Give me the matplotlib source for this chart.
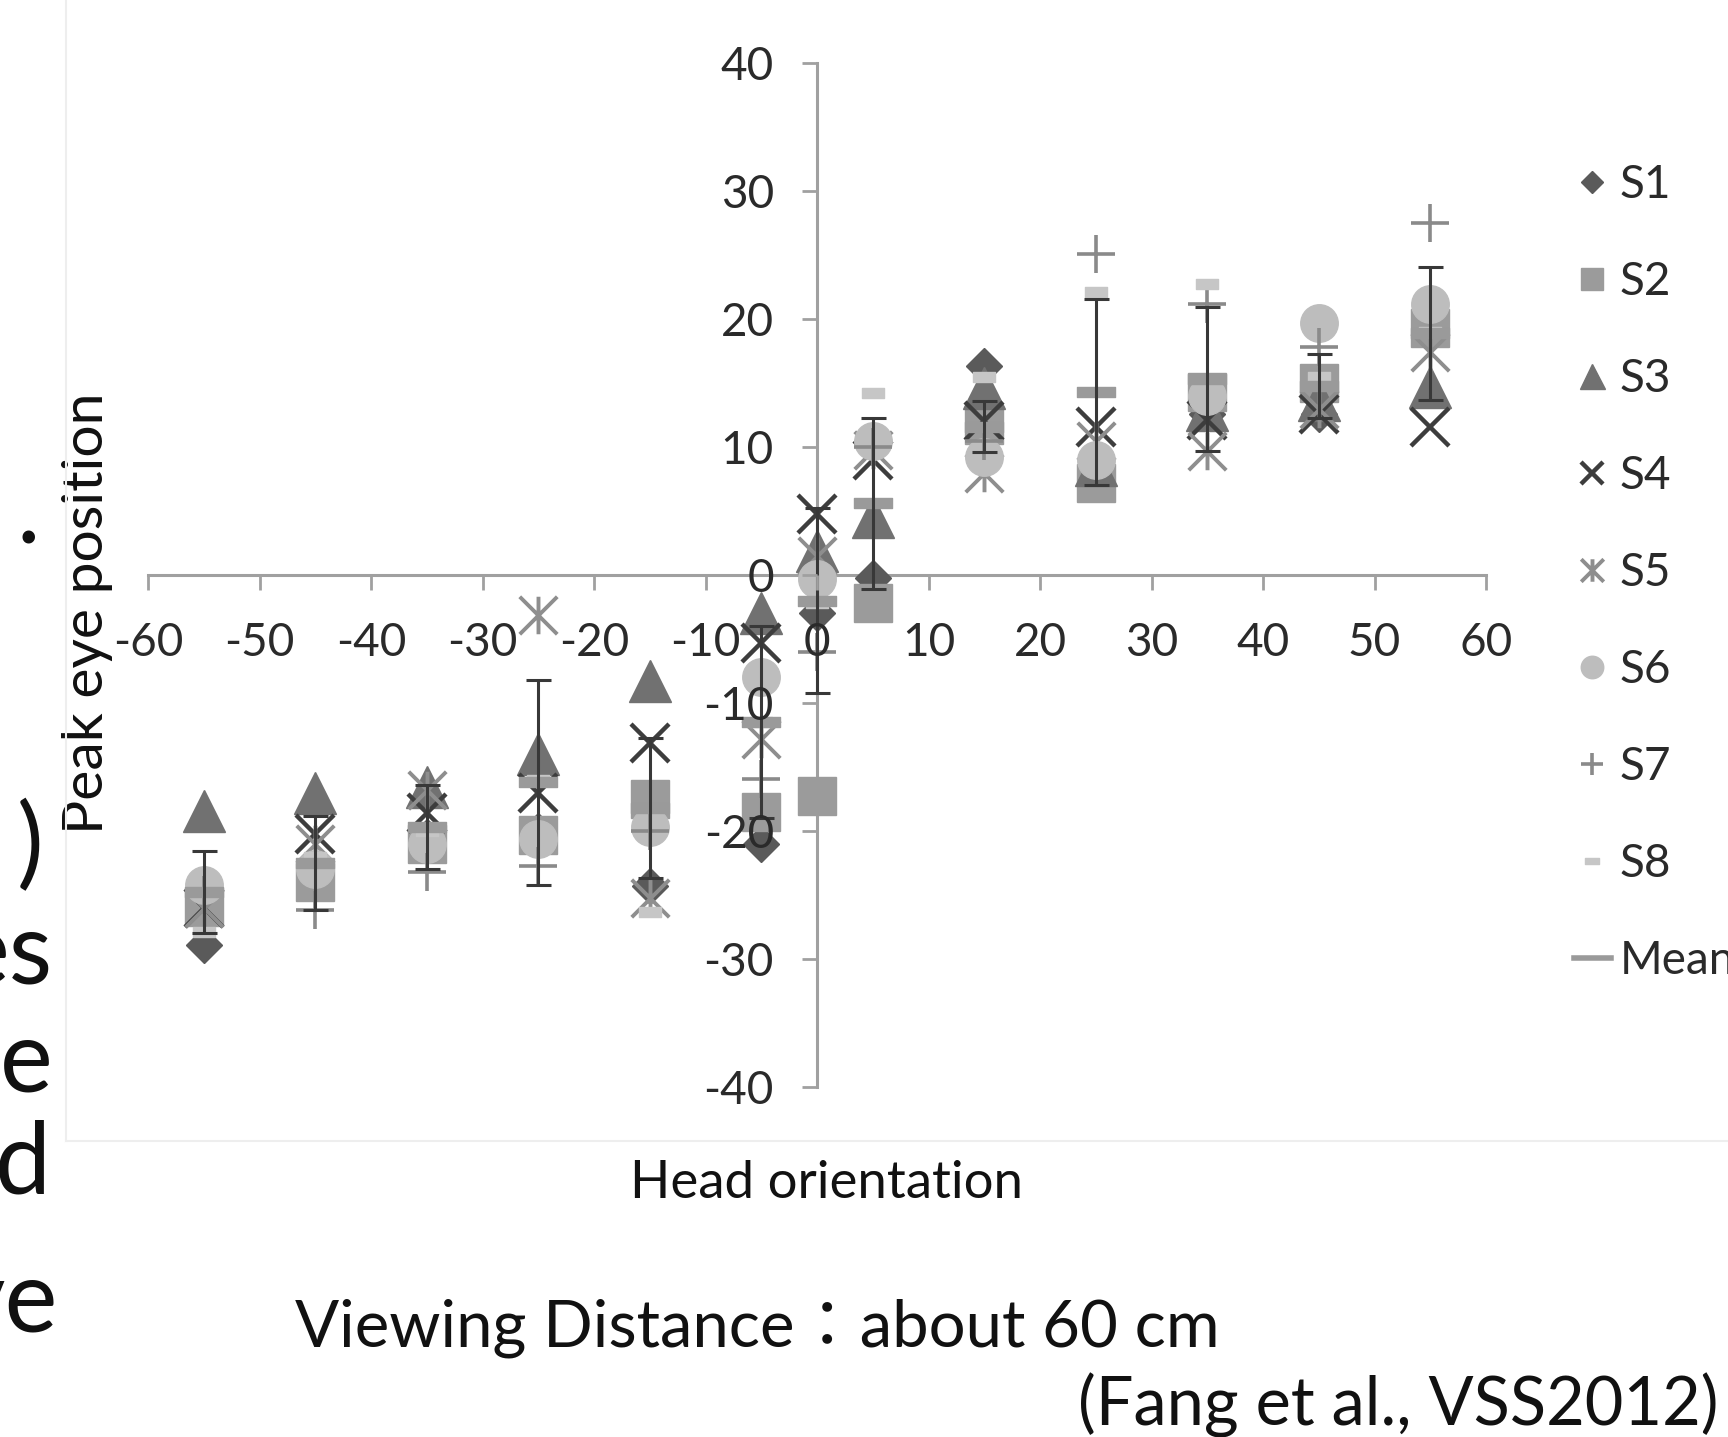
import matplotlib
matplotlib.use('Agg')
import matplotlib.pyplot as plt
from matplotlib.path import Path
from matplotlib.lines import Line2D

plt.rcParams['font.family'] = ['Lato', 'Noto Sans CJK JP', 'DejaVu Sans']
plt.rcParams['axes.unicode_minus'] = False

# head orientation (deg) for every cluster
head = [-55, -45, -35, -25, -15, -5, 0, 5, 15, 25, 35, 45, 55]

# peak eye position per subject
s1 = [-28.9, -24.0, -20.5, -20.0, -24.3, -21.0, -3.0, -0.2, 16.3, 9.0, 12.6, 12.6, 19.5]
s2 = [-25.9, -24.0, -21.0, -20.3, -17.5, -18.5, -17.3, -2.2, 11.7, 7.2, 14.3, 15.0, 19.3]
s3 = [-18.4, -17.0, -16.6, -14.0, -8.3, -3.0, 1.9, 4.5, 14.6, 8.6, 12.9, 13.7, 14.7]
s4 = [-26.0, -20.2, -18.6, -17.0, -13.1, -5.3, 4.8, 9.0, 12.0, 11.6, 12.1, 12.6, 11.6]
s5 = [-26.0, -21.0, -16.8, -3.1, -25.2, -12.8, 1.5, 9.8, 8.0, 10.5, 9.7, 13.0, 17.4]
s6 = [-24.2, -23.0, -21.0, -20.6, -19.7, -8.0, -0.3, 10.5, 9.2, 9.0, 14.0, 19.7, 21.2]
s7 = [-25.0, -26.2, -23.2, -22.7, -20.0, -15.9, -6.0, 10.0, 10.5, 25.1, 21.2, 17.8, 27.5]
s8 = [-27.9, -22.0, -20.0, -16.0, -26.3, -11.5, -2.2, 14.2, 15.5, 22.1, 22.7, 15.5, 19.0]
mean = [-24.8, -22.5, -19.7, -16.2, -18.2, -11.5, -2.0, 5.6, 11.6, 14.3, 15.3, 14.8, 18.9]
mean_err = [3.2, 3.7, 3.3, 8.0, 5.5, 7.5, 7.2, 6.7, 2.0, 7.3, 5.6, 2.5, 5.2]

# excel-like markers
asterisk = Path([(-1, -1), (1, 1), (-1, 1), (1, -1), (0, -1), (0, 1)],
                [Path.MOVETO, Path.LINETO] * 3)
short_dash = Path([(-1, -0.45), (1, -0.45), (1, 0.45), (-1, 0.45), (-1, -0.45)],
                  [Path.MOVETO, Path.LINETO, Path.LINETO, Path.LINETO, Path.CLOSEPOLY])
long_dash = Path([(-1, -0.28), (1, -0.28), (1, 0.28), (-1, 0.28), (-1, -0.28)],
                 [Path.MOVETO, Path.LINETO, Path.LINETO, Path.LINETO, Path.CLOSEPOLY])

series = [
    ('S1', s1, dict(marker='D', ms=18, color='#5a5a5a')),
    ('S2', s2, dict(marker='s', ms=27, color='#9b9b9b')),
    ('S3', s3, dict(marker='^', ms=30, color='#717171')),
    ('S4', s4, dict(marker='x', ms=27, mew=3.2, color='#3d3d3d')),
    ('S5', s5, dict(marker=asterisk, ms=27, mew=2.8, color='#8e8e8e')),
    ('S6', s6, dict(marker='o', ms=27, color='#bdbdbd')),
    ('S7', s7, dict(marker='+', ms=27, mew=2.6, color='#8a8a8a')),
    ('S8', s8, dict(marker=short_dash, ms=16, color='#c6c6c6')),
]

W, H = 1728, 1437
fig = plt.figure(figsize=(W / 100, H / 100), dpi=100)
ax = fig.add_axes([148 / W, 1 - 1087 / H, 1338 / W, 1024 / H])

handles = []
for name, vals, kw in series:
    ln, = ax.plot(head, vals, linestyle='none', label=name, zorder=2, **kw)
    handles.append(ln)

ax.plot(head, mean, linestyle='none', marker=long_dash, ms=27, color='#9a9a9a', zorder=2)
ax.errorbar(head, mean, yerr=mean_err, fmt='none', ecolor='#383838',
            elinewidth=2.2, capsize=9, capthick=2.2, zorder=2.2)
handles.append(Line2D([], [], color='#9a9a9a', lw=4, label='Mean'))

# axes crossing at the origin
ax.set_xlim(-60, 60)
ax.set_ylim(-40, 40)
ax.spines['left'].set_position(('data', 0))
ax.spines['bottom'].set_position(('data', 0))
ax.spines['top'].set_visible(False)
ax.spines['right'].set_visible(False)
for sp in ('left', 'bottom'):
    ax.spines[sp].set_color('#a0a0a0')
    ax.spines[sp].set_linewidth(2.2)
    ax.spines[sp].set_zorder(1)
ax.set_xticks(range(-60, 61, 10))
ax.set_yticks(range(-40, 41, 10))
ax.tick_params(direction='out', length=11, width=2, color='#a0a0a0',
               labelsize=33, labelcolor='#2a2a2a')
ax.tick_params(axis='x', pad=23)
ax.tick_params(axis='y', pad=20)
ax.xaxis.set_zorder(3)
ax.yaxis.set_zorder(3)
ax.patch.set_visible(False)

ax.set_ylabel('Peak eye position', fontsize=41, color='#111111', va='center', ha='center')
ax.yaxis.set_label_coords(-0.0455, 0.463)
ax.set_xlabel('Head orientation', fontsize=38, color='#111111', va='center', ha='center')
ax.xaxis.set_label_coords(0.507, -0.0947)

leg = ax.legend(handles=handles, loc='upper left', bbox_to_anchor=(1574 / W, 1 - 164 / H),
                bbox_transform=fig.transFigure, frameon=False, fontsize=33,
                markerscale=0.6, handlelength=0.8, handletextpad=0.2,
                labelspacing=1.2, borderpad=0, borderaxespad=0)
for t in leg.get_texts():
    t.set_color('#2a2a2a')

# faint edge of the pasted chart picture
fig.add_artist(Line2D([66 / W, 66 / W], [1, 1 - 1141 / H], color='#eeeeee', lw=1.5))
fig.add_artist(Line2D([66 / W, 1], [1 - 1141 / H, 1 - 1141 / H], color='#eeeeee', lw=1.5))

# slide text around the chart
fig.text(295 / W, 1 - 1347 / H, 'Viewing Distance：about 60 cm', fontsize=47,
         va='baseline', ha='left', color='#111111')
fig.text(1719 / W, 1 - 1425 / H, '(Fang et al., VSS2012)', fontsize=48,
         va='baseline', ha='right', color='#111111')
for txt, x, y in [('.', 40, 543), (')', 44, 876), ('es', 53, 984),
                  ('e', 53, 1091), ('d', 51, 1193), ('ve', 58, 1331)]:
    fig.text(x / W, 1 - y / H, txt, fontsize=72, va='baseline', ha='right', color='#111111')

fig.savefig('out.png', dpi=100, facecolor='white')
